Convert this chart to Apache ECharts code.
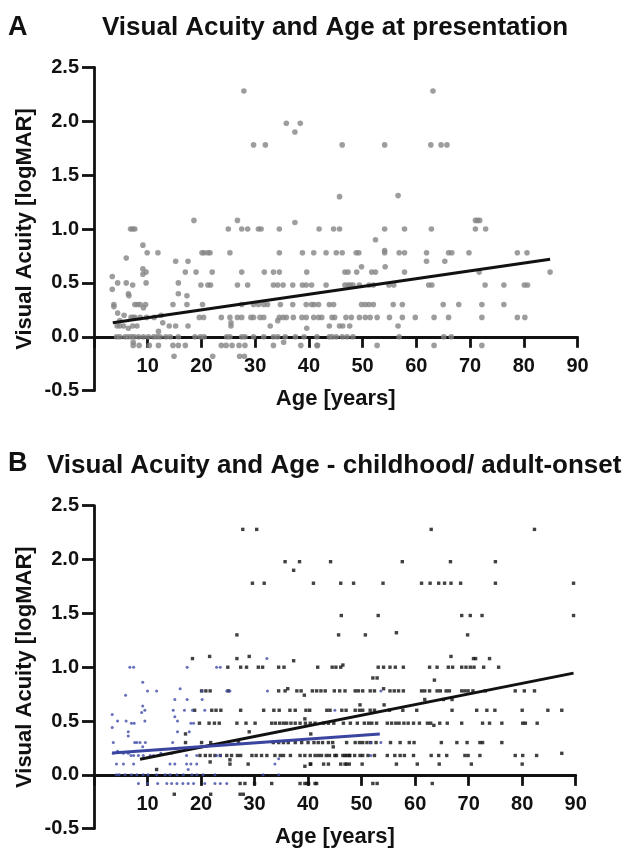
<!DOCTYPE html>
<html>
<head>
<meta charset="UTF-8">
<title>Visual Acuity and Age</title>
<style>
  html,body{margin:0;padding:0;background:#fff;}
</style>
<script src="https://cdn.jsdelivr.net/npm/echarts@6/dist/echarts.min.js"></script>
</head>
<body>
<div id="main" style="width:624px;height:849px;"></div>
<script>
// each row: [logMAR, [ages at that logMAR]]
var rowsA = [
  [2.28,[27.9,63.1]],
  [1.98,[35.8,38.4]],
  [1.9,[37.4]],
  [1.78,[29.7,31.9,46.2,54.1,62.7,64.6,65.7]],
  [1.31,[56.6]],
  [1.3,[45.7]],
  [1.08,[18.6,26.7,71,71.4,71.8]],
  [1.06,[37.4]],
  [1.0,[6.8,7.2,7.6,25,27.5,28.6,30.6,31.1,34.5,41.9,44.6,45.7,54.1,57.8,62.8,71,72.9]],
  [0.9,[52.4]],
  [0.85,[9.1]],
  [0.8,[54.1]],
  [0.78,[9.9,11.9,20.1,20.5,21.2,21.6,25.3,34.5,38.8,40.9,43.2,45.1,46.2,48.8,49.3,54.1,56.8,57.8,61.9,66,66.6,69.8,78.8,80.6]],
  [0.73,[6]],
  [0.7,[15.2,17.5,61.9,65.3]],
  [0.65,[49.8,54.2]],
  [0.63,[9.1]],
  [0.6,[9.7,17,19,22,27.5,31.7,33.4,34.5,39.6,46.7,47.3,48.9,51.7,52.4,57.8,71.7,84.9]],
  [0.58,[9.1]],
  [0.56,[3.4]],
  [0.5,[4.4,6,9.7,15.7]],
  [0.48,[7.2,19.9,21.2,21.7,26.7,28.6,33.4,34.2,35.2,37,38.8,39.5,40.5,43.2,46.7,47.3,47.7,48.2,49.4,51.2,52,54.9,55.8,62.3,62.9,72.8,76.3,80.1,80.7]],
  [0.44,[3.4]],
  [0.4,[6.4,15.7]],
  [0.38,[6.5,17.3]],
  [0.3,[3.7,7.6,8.1,8.6,9.6,14.7,17.3,20.2,27.5,29.7,30.6,31.6,32.3,34.7,37,39.5,40.5,41,41.8,43.8,44.6,49.8,50.5,51.2,52,55.7,57.4,65,67.9,72.2,76.3]],
  [0.28,[3.7]],
  [0.27,[9.2]],
  [0.22,[4.4]],
  [0.2,[5.6,12.5]],
  [0.18,[6.9,7.3,7.6,8.6,9.8,11.2,19.6,20.4,23.7,25.3,26.7,27.5,29.2,29.7,30.9,31.6,34.5,35.2,35.8,37.1,38.7,39.5,40.9,41.8,42.4,44.3,44.8,46.9,47.9,49.4,50.5,51.4,52.7,55,57.4,59.8,63.3,66,72.2,78.8,80.2]],
  [0.15,[4.8,34.2]],
  [0.13,[12.8,25.5]],
  [0.1,[4.3,4.8,5.5,7.2,8,14,15.2,17.5,25.5,32.8,43.8,45.7,46.3,47.6,56.6]],
  [0.08,[6.4,39.6]],
  [0.05,[12]],
  [0,[4.2,4.8,5.8,6.4,7,7.5,8.3,9.2,10.1,11.1,11.7,12.3,13.4,14.2,15.7,18.8,19.8,20.5,24.7,25.3,27.5,28.1,29.7,31.6,33.4,34.2,35.6,37.5,39.1,41.5,43.8,44.3,45.1,46.2,47.1,48.2,56.8,65.1,66.5]],
  [-0.05,[7.3,35.3]],
  [-0.08,[7.3,8.4,10.3,12,14.7,15.7,17,23.7,24.6,25.7,27,28.1,33.4,38.5,41.5,41.6,52.7,63.3,72.2]],
  [-0.18,[14.9,22.1,27.1,28]]
];
var fitA = [[3.5,0.13],[84.9,0.72]];

var blackB = [
  [2.28,[27.8,30.4,63,82.3]],
  [1.98,[35.7,38.4,57.6,66.6,75,44.2]],
  [1.9,[37.3]],
  [1.78,[29.6,31.8,41,46.1,48.5,54,61.2,62.8,64.4,65.5,66.7,68.5,75,89.6]],
  [1.48,[46.2,53.1,68.7,70.3,72.5,89.6]],
  [1.32,[56.5]],
  [1.3,[26.7,45.7,50.7,69.8]],
  [1.1,[21.6,29,66.7]],
  [1.08,[18.4,26.7,70.9,71.3,73.9]],
  [1.06,[37.3]],
  [1.02,[46.5]],
  [1.0,[25,27.4,28.5,30.7,31.5,34.5,35.5,41.8,44.5,45.2,46.1,53.1,54.1,55.3,56.3,57.8,62.7,64.1,66.2,67,68.7,69.5,70.3,71,72.8,75.6]],
  [0.9,[52.1,52.9]],
  [0.88,[63.6]],
  [0.8,[36.2,54.1]],
  [0.78,[20.1,20.9,21.7,25.1,34.5,35.7,37.9,38.7,40.8,41.6,42.4,43.2,44.9,45.9,46.9,48.8,49.4,50.2,51.6,52.4,55.3,56.1,56.9,57.8,61.2,61.8,62.7,64.1,64.7,65.8,66.4,68.7,69.3,69.9,70.8,73.1,78.7,80.4,82.3]],
  [0.74,[39.3]],
  [0.7,[61.8,65.3,66.9]],
  [0.65,[49.7,54.2]],
  [0.6,[18.8,22,22.8,23.7,27.4,31.7,33.6,34.6,36.6,37.6,39.6,40.3,43.5,44.1,46.3,47.1,48.8,49.6,50.2,51.6,52.4,55.2,57.7,60.3,66.9,71.5,73.4,74.9,80,84.8,87.4]],
  [0.52,[39.4]],
  [0.48,[19.7,21.5,22.5,23.4,26.7,28.4,30.1,33.2,33.9,34.7,35.4,36,36.8,37.6,38.5,39.5,40.4,41.3,42.9,43.8,44.8,46.6,47.9,49.2,50.5,51.3,51.9,52.8,54.8,55.6,56.4,57,57.9,58.7,59.7,60.8,62.3,62.9,64.6,66,68.7,72.6,73.9,76.2,80.1,80.6,82.8]],
  [0.46,[63.5]],
  [0.4,[29]],
  [0.38,[17.1,40.5]],
  [0.3,[17.1,20.1,21.8,27,33.5,34.5,35.4,36.3,37.6,38.8,40,41.1,41.9,42.7,43.8,44.6,47.2,48.8,49.6,50.2,51,51.7,52.7,55.4,57.2,58.9,59.8,64.9,67.8,69.7,72.1,72.6,76.2]],
  [0.26,[44.7]],
  [0.2,[87.4]],
  [0.18,[19.8,20.8,21.7,22.6,23.6,24.8,25.7,26.8,27.4,29.5,30.3,31.3,32.3,33.8,34.8,35.4,36.7,38.5,39.4,40.4,41.3,41.9,42.5,43.4,44,45,45.3,46.5,47.2,47.7,46.9,47.8,48.7,49.7,50.2,51.2,52.4,54.8,56.2,57.2,58,59.7,63,64.4,65.9,69.3,69.9,72.1,78.7,80.1,82.7]],
  [0.14,[25.4]],
  [0.12,[21.7]],
  [0.1,[25.4,28.8,40.4,40.5,42.9,43.8,46.1,46.9,47.2,47.7,50.1,56.5,60.4,64.5,70.5,80]],
  [0.08,[39.4]],
  [0.05,[11.7]],
  [-0.08,[27.3,28.2,30,33.2,38.5,39.4,40.1,41.3,39.8,41.6,52.1,52.9,63.2]],
  [-0.18,[15,21.8,27.3,27.9]]
];
var blueB = [
  [1.08,[32.3]],
  [1.0,[6.7,7.4,17.4,22.9,23.6]],
  [0.86,[9.1]],
  [0.8,[16.1]],
  [0.78,[10,11.7,20.2,24.8,25.4,32.4,53.6]],
  [0.74,[5.9]],
  [0.7,[15.1,17.4,20.2]],
  [0.64,[9.1]],
  [0.6,[9.5,14.8,16.9,18.4,20.7,45]],
  [0.58,[8.9]],
  [0.56,[3.4]],
  [0.54,[15.1]],
  [0.5,[4.4,6,9.5,15.6]],
  [0.48,[7,7.5,18.1,18.6]],
  [0.44,[3.4]],
  [0.4,[6.4,15.6,17.8]],
  [0.36,[6.4]],
  [0.3,[3.6,7.6,8,8.6,9.6,14.7,51.7,53.6]],
  [0.26,[9.1]],
  [0.22,[4.4]],
  [0.2,[3.6,5.5,6.4,12.5,14.5]],
  [0.18,[6.9,7.4,8.3,9.2,10.5,11.1,12,17.3,19.2,22.9,23.6,51.7]],
  [0.15,[34.5]],
  [0.1,[4.2,5.5,7.4,14.2,15.1,17.3,18.1,19.2,33.8]],
  [0.05,[17.6]],
  [0,[4.2,4.7,5.8,7,8,9.2,10.1,11.7,13.3,14.2,15.5,16.7,18.3,19.2,20.4,22.6,31.6,34.5]],
  [-0.08,[8.3,10,11.9,13.6,14.5,15.5,16.6,17.6,18.6,20.7,22.6,23.6,24.8]]
];
var fitBlack = [[8.6,0.145],[89.6,0.945]];
var fitBlue = [[3.4,0.204],[53.4,0.38]];

var yTicks = { min:-0.5, max:2.5, interval:0.5 };
var xTicks = { min:0, max:90, interval:10 };

function toPoints(rows){
  var pts=[];
  rows.forEach(function(r){
    r[1].forEach(function(age){ pts.push([age,r[0]]); });
  });
  return pts;
}

var font='"Liberation Sans", Arial, sans-serif';

function xAxis(idx){
  return {
    type:'value', gridIndex:idx, min:xTicks.min, max:xTicks.max, interval:xTicks.interval,
    name:'Age [years]', nameLocation:'middle', nameGap:-3, nameMoveOverlap:false,
    nameTextStyle:{fontFamily:font,fontWeight:'bold',fontSize:22,color:'#111'},
    axisLine:{onZero:true,lineStyle:{color:'#111',width:2.8}},
    axisTick:{length:11,lineStyle:{color:'#111',width:2.8}},
    // labels stay at the grid bottom with onZero, so pull them back up
    axisLabel:{fontFamily:font,fontWeight:'bold',fontSize:20,color:'#111',margin:-34,
      hideOverlap:false,showMinLabel:true,
      formatter:function(v){return v===0?'':v;}},
    splitLine:{show:false}
  };
}
function yAxis(idx){
  return {
    type:'value', gridIndex:idx, min:yTicks.min, max:yTicks.max, interval:yTicks.interval,
    name:'Visual Acuity [logMAR]', nameLocation:'middle', nameGap:58, nameMoveOverlap:false,
    nameTextStyle:{fontFamily:font,fontWeight:'bold',fontSize:22,color:'#111'},
    axisLine:{show:true,onZero:false,lineStyle:{color:'#111',width:2.8}},
    axisTick:{show:true,length:12,lineStyle:{color:'#111',width:2.8}},
    axisLabel:{fontFamily:font,fontWeight:'bold',fontSize:20,color:'#111',margin:15,
      formatter:function(v){return v.toFixed(1);}},
    splitLine:{show:false}
  };
}
function fitSeries(idx,data,color){
  return {type:'line',xAxisIndex:idx,yAxisIndex:idx,data:data,symbol:'none',silent:true,z:5,
    lineStyle:{color:color,width:3}};
}

var chart = echarts.init(document.getElementById('main'));
chart.setOption({
  animation:false,
  backgroundColor:'#fff',
  title:[
    {text:'A',left:3,top:9,textStyle:{fontFamily:font,fontWeight:'bold',fontSize:27,color:'#111'}},
    {text:'Visual Acuity and Age at presentation',left:97,top:10,textStyle:{fontFamily:font,fontWeight:'bold',fontSize:26,color:'#111'}},
    {text:'B',left:3,top:445,textStyle:{fontFamily:font,fontWeight:'bold',fontSize:27,color:'#111'}},
    {text:'Visual Acuity and Age - childhood/ adult-onset',left:42,top:448,textStyle:{fontFamily:font,fontWeight:'bold',fontSize:26,color:'#111'}}
  ],
  grid:[
    {left:94,top:67.3,width:483.5,height:323.4,outerBoundsMode:'none'},
    {left:94,top:505.7,width:481.7,height:323,outerBoundsMode:'none'}
  ],
  xAxis:[xAxis(0),xAxis(1)],
  yAxis:[yAxis(0),yAxis(1)],
  series:[
    {type:'scatter',xAxisIndex:0,yAxisIndex:0,data:toPoints(rowsA),symbol:'circle',symbolSize:5.6,
      itemStyle:{color:'#858585'}},
    fitSeries(0,fitA,'#111'),
    {type:'scatter',xAxisIndex:1,yAxisIndex:1,data:toPoints(blackB),symbol:'rect',symbolSize:3.4,
      itemStyle:{color:'#111'}},
    {type:'scatter',xAxisIndex:1,yAxisIndex:1,data:toPoints(blueB),symbol:'circle',symbolSize:3,
      itemStyle:{color:'#3f4aa8'}},
    fitSeries(1,fitBlack,'#111'),
    fitSeries(1,fitBlue,'#3a45a0')
  ]
});
</script>
</body>
</html>
